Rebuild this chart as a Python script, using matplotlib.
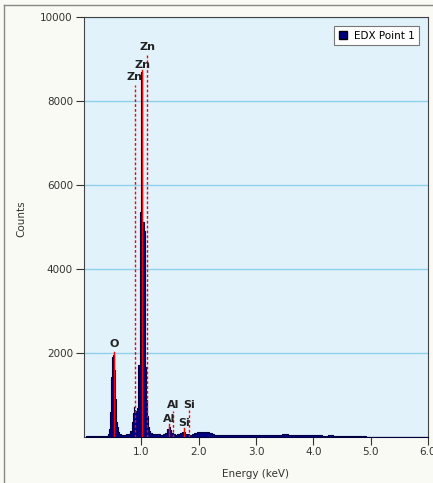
import matplotlib
matplotlib.use('Agg')
import matplotlib.pyplot as plt
from matplotlib.patches import Patch
from matplotlib.lines import Line2D

# spectrum (keV, counts)
energy = [0.04, 0.08, 0.12, 0.16, 0.20, 0.24, 0.28, 0.32, 0.36, 0.40, 0.43, 0.45,
          0.46, 0.47, 0.48, 0.49, 0.50, 0.51, 0.52, 0.53, 0.54, 0.55, 0.56, 0.57,
          0.58, 0.60, 0.63, 0.66, 0.69, 0.72, 0.75, 0.78, 0.80, 0.82, 0.84, 0.86,
          0.87, 0.88, 0.90, 0.92, 0.94, 0.95, 0.97, 0.98, 0.99, 1.00, 1.005, 1.01,
          1.02, 1.04, 1.05, 1.06, 1.07, 1.08, 1.09, 1.10, 1.12, 1.14, 1.17, 1.20,
          1.25, 1.30, 1.35, 1.40, 1.44, 1.47, 1.49, 1.51, 1.54, 1.57, 1.60, 1.65,
          1.70, 1.72, 1.75, 1.78, 1.82, 1.86, 1.90, 1.95, 2.00, 2.05, 2.10, 2.15,
          2.20, 2.25, 2.30, 2.40, 2.50, 2.60, 2.70, 2.80, 2.90, 3.00, 3.10, 3.20,
          3.30, 3.40, 3.50, 3.60, 3.70, 3.80, 3.90, 4.00, 4.10, 4.20, 4.30, 4.40,
          4.50, 4.60, 4.70, 4.80, 4.90, 4.95, 5.10, 5.40, 5.70, 6.00]
counts = [15, 25, 20, 30, 22, 28, 25, 30, 26, 35, 60, 180,
          600, 1071, 1428, 1700, 1905, 1950, 1880, 1600, 1357, 900, 571, 350,
          238, 110, 60, 50, 55, 45, 60, 70, 60, 150, 350, 571,
          720, 650, 600, 620, 700, 1714, 1714, 5357, 5357, 7667, 8700, 7667,
          5119, 5119, 4900, 4900, 1667, 1667, 880, 500, 240, 150, 100, 80,
          60, 70, 55, 65, 90, 180, 238, 160, 90, 70, 55, 60,
          90, 119, 130, 80, 60, 55, 70, 90, 110, 125, 130, 115,
          90, 70, 55, 50, 45, 50, 40, 45, 40, 40, 45, 38,
          42, 55, 70, 45, 42, 38, 40, 36, 38, 34, 36, 32,
          35, 30, 32, 28, 25, 8, 6, 5, 5, 4]

# element markers: label, energy, label height, line top, dotted?
mark_labels = ['O', 'Zn', 'Zn', 'Zn', 'Al', 'Al', 'Si', 'Si']
mark_energy = [0.525, 0.884, 1.012, 1.107, 1.486, 1.557, 1.740, 1.836]
mark_label_y = [2214, 8560, 8869, 9286, 430, 750, 333, 762]
mark_top = [2024, 8381, 8738, 9143, 300, 630, 210, 640]
mark_dotted = [False, True, False, True, False, True, False, True]

fig = plt.figure(figsize=(4.33, 4.83), dpi=100, facecolor='#fafaf4')
ax = fig.add_axes([84/433, 1-437/483, 344/433, 420/483])
ax.set_facecolor('#e2f2fb')

ax.fill_between(energy, counts, step='mid', facecolor='#000080',
                edgecolor='#000040', linewidth=0.8, zorder=3)

for lab, e, ly, top, dot in zip(mark_labels, mark_energy, mark_label_y, mark_top, mark_dotted):
    ls = (0, (2, 1.5)) if dot else '-'
    ax.plot([e, e], [0, top], color='red', lw=1, ls=ls, zorder=4)
    ax.text(e, ly, lab, ha='center', va='center', fontsize=8, weight='bold',
            color='#222222', zorder=5)

ax.set_xlim(0, 6.0)
ax.set_ylim(0, 10000)
ax.set_xticks([1, 2, 3, 4, 5, 6])
ax.set_xticklabels(['1.0', '2.0', '3.0', '4.0', '5.0', '6.0'])
ax.set_yticks([2000, 4000, 6000, 8000, 10000])
ax.yaxis.grid(True, color='#8fd0ec', lw=1)
ax.set_axisbelow(True)
ax.tick_params(direction='out', length=6, width=0.8, color='#333333',
               labelsize=7.5, labelcolor='#333333')
ax.tick_params(axis='y', pad=2)
ax.tick_params(axis='x', pad=1.5)
for s in ax.spines.values():
    s.set_color('#444444')
    s.set_linewidth(0.8)

ax.set_xlabel('Energy (keV)', fontsize=7.5, color='#333333', labelpad=8)
ax.set_ylabel('Counts', fontsize=7.5, color='#333333')
ax.yaxis.set_label_coords(-(84 - 26) / 344, 0.52)

handle = Patch(facecolor='#000080', edgecolor='#000000', label='EDX Point 1')
leg = ax.legend(handles=[handle], loc='upper right', fontsize=7.5,
                bbox_to_anchor=(419/433, 1-26/483), bbox_transform=fig.transFigure,
                borderaxespad=0, fancybox=False, framealpha=1,
                handlelength=0.8, handleheight=0.8, handletextpad=0.6, borderpad=0.45)
leg.get_frame().set_edgecolor('#777777')
leg.get_frame().set_linewidth(0.8)

# outer frame of the chart panel
fig.add_artist(Line2D([3.5/433, 3.5/433], [0, 1-5/483], color='#888888', lw=1))
fig.add_artist(Line2D([3.5/433, 1], [1-5/483, 1-5/483], color='#888888', lw=1))

fig.savefig('out.png', dpi=100, facecolor=fig.get_facecolor())
